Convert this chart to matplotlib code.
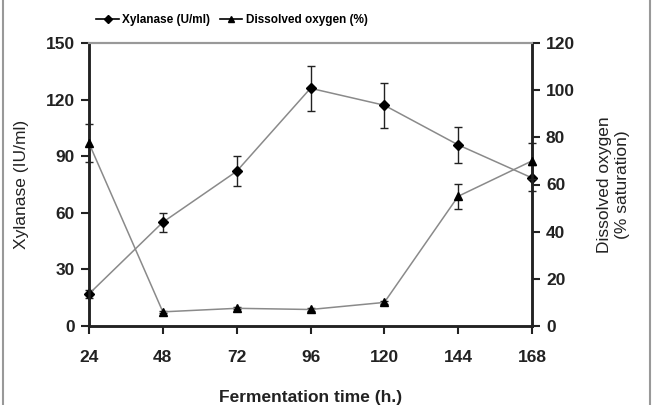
import matplotlib.pyplot as plt
from matplotlib.lines import Line2D

plt.rcParams['font.family'] = ['Liberation Sans', 'DejaVu Sans']

# fermentation time (h)
time_h = [24, 48, 72, 96, 120, 144, 168]
xylanase = [17, 55, 82, 126, 117, 96, 78.5]
xylanase_err = [2, 5, 8, 12, 12, 9.5, 7]
oxygen = [77.5, 6, 7.5, 7, 10, 55, 70]
oxygen_err = [8, 0.5, 0.5, 0.5, 0.8, 5.3, 7.5]

fig = plt.figure(figsize=(6.55, 4.05), dpi=100)
ax = fig.add_axes([89 / 655, 1 - 326 / 405, 443 / 655, 283 / 405])
ax2 = ax.twinx()

line_col = '#8a8a8a'

c1 = ax.errorbar(time_h, xylanase, yerr=xylanase_err, color=line_col, lw=1.1,
                 marker='D', ms=5, mfc='black', mec='black',
                 ecolor='#222222', elinewidth=1, capsize=3, capthick=1, zorder=3)
c2 = ax2.errorbar(time_h, oxygen, yerr=oxygen_err, color=line_col, lw=1.1,
                  marker='^', ms=5.5, mfc='black', mec='black',
                  ecolor='#222222', elinewidth=1, capsize=3, capthick=1, zorder=3)
for cont in (c1, c2):
    for art in cont.get_children():
        art.set_clip_on(False)

ax.set_xlim(24, 168)
ax.set_ylim(0, 150)
ax2.set_ylim(0, 120)
ax.set_xticks(time_h)
ax.set_yticks(range(0, 151, 30))
ax2.set_yticks(range(0, 121, 20))

for a in (ax, ax2):
    for side in ('left', 'right', 'bottom'):
        a.spines[side].set_linewidth(1.8)
        a.spines[side].set_color('#222222')
    a.spines['top'].set_color('#999999')
    a.spines['top'].set_linewidth(1.5)
    a.tick_params(direction='out', length=6, width=1.5, color='#222222',
                  labelsize=12.5, pad=4)

ax.tick_params(axis='x', pad=11)
for lab in ax.get_xticklabels() + ax.get_yticklabels() + ax2.get_yticklabels():
    lab.set_fontweight('bold')
    lab.set_color('#222222')

ax.set_xlabel('Fermentation time (h.)', fontsize=12.5, fontweight='bold',
              color='#222222', labelpad=18)
ax.set_ylabel('Xylanase (IU/ml)', fontsize=12.5, color='#222222', labelpad=12)
ax2.set_ylabel('Dissolved oxygen\n(% saturation)', fontsize=12.5,
               color='#222222', labelpad=16)

handles = [
    Line2D([], [], color='black', lw=1.2, marker='D', ms=4),
    Line2D([], [], color='black', lw=1.2, marker='^', ms=5),
]
fig.legend(handles, ['Xylanase (U/ml)', 'Dissolved oxygen (%)'],
           loc='center', bbox_to_anchor=(232 / 655, 1 - 20 / 405), ncol=2,
           frameon=False, prop={'weight': 'bold', 'size': 8.5},
           handlelength=1.9, handletextpad=0.3, columnspacing=0.8)

# side frame lines
fig.add_artist(Line2D([3 / 655, 3 / 655], [0, 1], color='#999999', lw=1.5))
fig.add_artist(Line2D([650 / 655, 650 / 655], [0, 1], color='#999999', lw=1.5))

fig.savefig('out.png', dpi=100)
